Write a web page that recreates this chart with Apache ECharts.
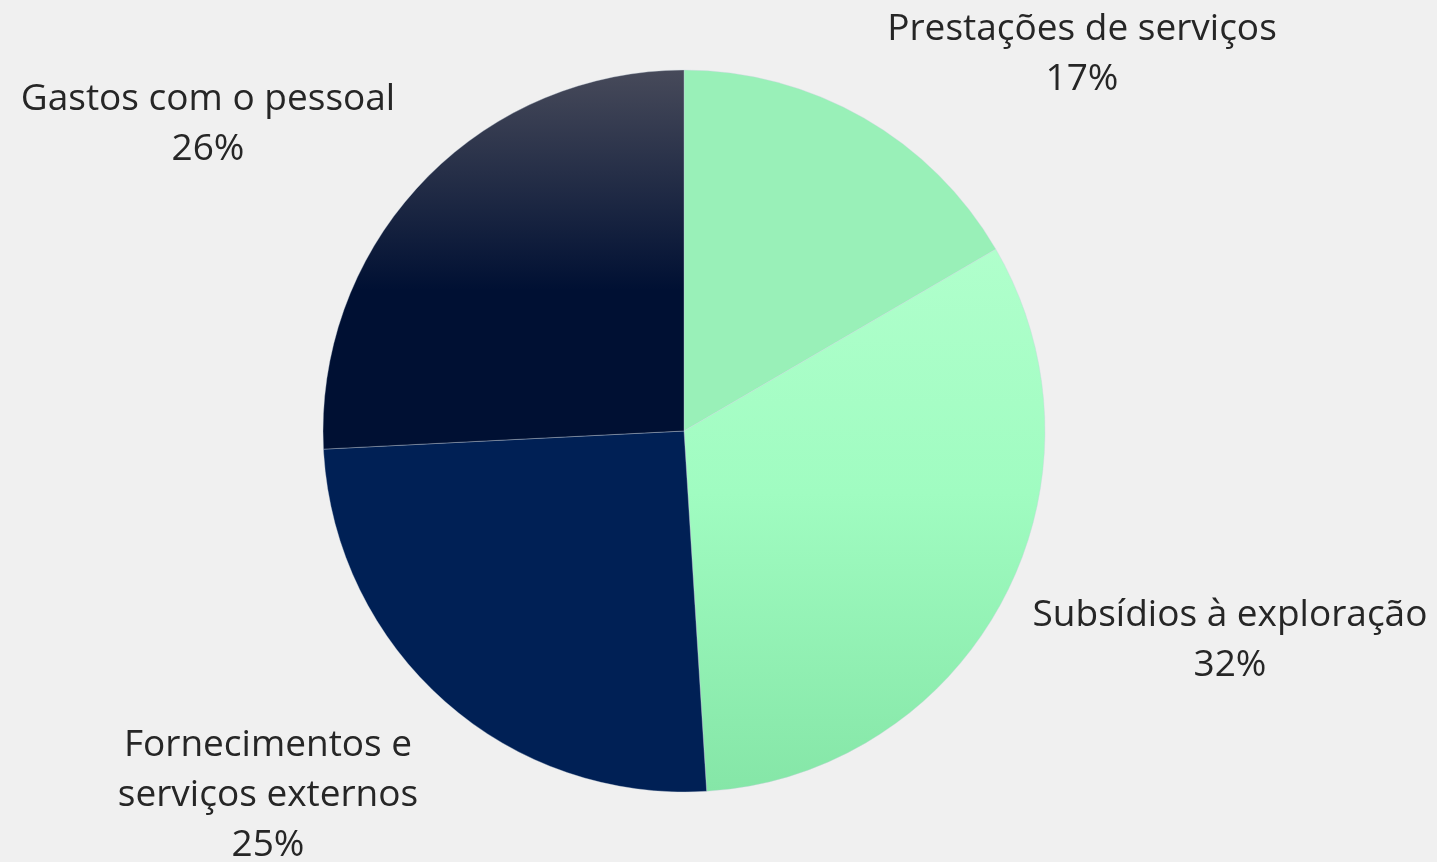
<!DOCTYPE html>
<html>
<head>
<meta charset="utf-8">
<script src="https://cdn.jsdelivr.net/npm/echarts@6/dist/echarts.min.js"></script>
<style>
html,body{margin:0;padding:0;background:#f0f0f0;}
#main{width:1437px;height:862px;}
</style>
</head>
<body>
<div id="main"></div>
<script>
const categories = ['Prestações de serviços', 'Subsídios à exploração', 'Fornecimentos e\nserviços externos', 'Gastos com o pessoal'];
const values = [16.6, 32.4, 25.2, 25.8];
const percentLabels = ['17%', '32%', '25%', '26%'];

const colors = [
  '#99f0b8',
  { type: 'linear', x: 0, y: 0, x2: 0, y2: 1, colorStops: [
    { offset: 0, color: '#b0ffcc' }, { offset: 0.45, color: '#a0fcc1' }, { offset: 1, color: '#85e6a7' } ] },
  '#002055',
  { type: 'linear', x: 0, y: 0, x2: 0, y2: 1, colorStops: [
    { offset: 0, color: '#474a5a' }, { offset: 0.58, color: '#001033' }, { offset: 1, color: '#001033' } ] }
];
const labelPos = [[1082, 54], [1230, 640], [268, 795], [208, 124]];

const chart = echarts.init(document.getElementById('main'));
chart.setOption({
  backgroundColor: '#f0f0f0',
  animation: false,
  series: [{
    type: 'pie',
    center: [684, 431],
    radius: 361,
    startAngle: 90,
    clockwise: true,
    avoidLabelOverlap: false,
    data: categories.map((c, i) => ({
      name: c, value: values[i],
      itemStyle: { color: colors[i] },
      label: { formatter: c + '\n' + percentLabels[i] }
    })),
    itemStyle: { borderColor: 'rgba(200,210,220,0.6)', borderWidth: 0.6 },
    label: {
      show: true,
      position: 'outside',
      color: '#262626',
      fontFamily: '"Open Sans", "Noto Sans", sans-serif',
      fontSize: 37,
      lineHeight: 50,
      align: 'center',
      overflow: 'none',
      width: 600
    },
    labelLine: { show: false },
    labelLayout: function (p) {
      const pos = labelPos[p.dataIndex];
      return { x: pos[0], y: pos[1], align: 'center', verticalAlign: 'middle' };
    },
    emphasis: { disabled: true }
  }]
});
</script>
</body>
</html>
